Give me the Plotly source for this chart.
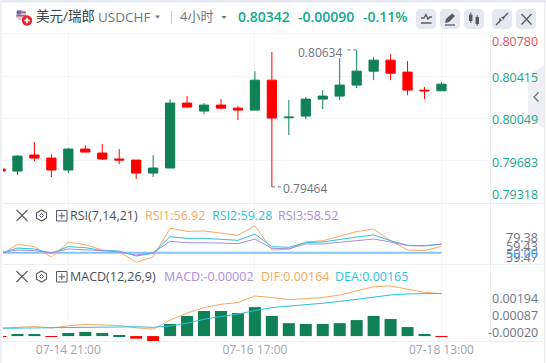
import plotly.graph_objects as go

times = ["07-14 05:00","07-14 09:00","07-14 13:00","07-14 17:00","07-14 21:00","07-15 01:00","07-15 05:00","07-15 09:00","07-15 13:00",
         "07-15 17:00","07-15 21:00","07-16 01:00","07-16 05:00","07-16 09:00","07-16 13:00","07-16 17:00","07-16 21:00","07-17 01:00",
         "07-17 05:00","07-17 09:00","07-17 13:00","07-17 17:00","07-17 21:00","07-18 01:00","07-18 05:00","07-18 09:00","07-18 13:00"]
opens  = [.79616,.79599,.79736,.79710,.79608,.79787,.79753,.79702,.79693,.79582,.79625,.80180,.80112,.80163,.80137,.80120,.80376,.80055,.80069,.80214,.80240,.80334,.80453,.80547,.80445,.80291,.80285]
closes = [.79599,.79727,.79710,.79608,.79787,.79761,.79702,.79693,.79582,.79625,.80180,.80146,.80163,.80137,.80120,.80376,.80052,.80060,.80214,.80240,.80334,.80453,.80547,.80436,.80291,.80285,.80342]
highs  = [.79622,.79736,.79847,.79744,.79796,.79821,.79830,.79787,.79693,.79736,.80214,.80240,.80180,.80214,.80154,.80453,.80616,.80206,.80231,.80291,.80564,.80634,.80573,.80598,.80539,.80317,.80359]
lows   = [.79591,.79565,.79685,.79548,.79582,.79761,.79693,.79659,.79531,.79548,.79625,.80137,.80086,.80129,.80035,.80120,.79464,.79907,.80043,.80129,.80206,.80308,.80376,.80376,.80248,.80214,.80285]
rsi1 = [47.5,59.0,56.5,45.3,61.2,58.6,52.9,51.1,39.6,45.3,76.3,73.0,73.4,70.9,68.7,79.1,52.9,53.6,61.5,62.9,67.6,72.7,75.5,62.9,52.9,52.2,56.9]
rsi2 = [49.3,55.0,54.0,49.3,56.5,55.4,52.2,51.8,46.4,49.3,67.3,65.5,65.5,64.4,63.3,70.1,56.5,55.8,60.8,61.5,64.4,66.9,69.1,62.9,57.9,57.6,59.3]
rsi3 = [50.0,52.9,52.2,50.0,54.0,53.2,52.2,50.7,47.5,50.0,62.2,60.8,60.8,60.4,59.7,64.7,54.7,54.3,59.4,59.4,61.2,63.3,64.7,61.5,57.6,57.2,59.0]
macd = [-.00002,.00008,.00008,-.00002,.00012,.00016,.00012,.00003,-.00010,-.00019,.00047,.00078,.00097,.00097,.00089,.00112,.00078,.00050,.00047,.00047,.00050,.00062,.00078,.00066,.00035,.00008,-.00002]
dif  = [.00031,.00035,.00037,.00031,.00040,.00045,.00044,.00041,.00032,.00027,.00062,.00089,.00110,.00123,.00130,.00155,.00149,.00141,.00145,.00149,.00159,.00176,.00191,.00194,.00181,.00169,.00164]
dea  = [.00030,.00031,.00032,.00031,.00034,.00035,.00036,.00037,.00036,.00034,.00039,.00050,.00065,.00076,.00085,.00099,.00110,.00116,.00121,.00127,.00134,.00142,.00151,.00159,.00163,.00165,.00165]
grid_prices = [.80408,.80052,.79693]
tick_times = ["07-14 21:00","07-16 17:00","07-18 13:00"]
price_labels = ["0.80780","0.80415","0.80049","0.79683","0.79318"]
rsi_labels = ["79.38","59.43","39.47","50.00"]
macd_labels = ["0.00194","0.00087","-0.00020"]

W, H = 546, 363
GREEN, RED = "#108157", "#ff0000"
TXT_GREEN, GRAY = "#14a98c", "#6f7480"
ORANGE, CYAN, PURPLE, BLUE = "#f8a860", "#29c3dc", "#a98be4", "#82c5fa"
GRID = "#f3f5f9"
FONT = "Open Sans, Noto Sans CJK SC, sans-serif"

def dom(top, bottom):
    return [1 - bottom / H, 1 - top / H]

fig = go.Figure()
fig.add_trace(go.Candlestick(x=times, open=opens, high=highs, low=lows, close=closes, xaxis="x", yaxis="y",
    whiskerwidth=0, line_width=1,
    increasing=dict(line_color=GREEN, fillcolor=GREEN), decreasing=dict(line_color=RED, fillcolor=RED)))
fig.add_trace(go.Scatter(x=times, y=[50]*27, mode="lines", line=dict(color=BLUE, width=2), xaxis="x2", yaxis="y2"))
for vals, col in ((rsi1, ORANGE), (rsi2, CYAN), (rsi3, PURPLE)):
    fig.add_trace(go.Scatter(x=times, y=vals, mode="lines", line=dict(color=col, width=1), xaxis="x2", yaxis="y2"))
fig.add_trace(go.Bar(x=times, y=macd, marker_color=[GREEN if v > 0 else RED for v in macd], marker_line_width=0, width=0.71, xaxis="x3", yaxis="y3"))
fig.add_trace(go.Scatter(x=times, y=dif, mode="lines", line=dict(color=ORANGE, width=1), xaxis="x3", yaxis="y3"))
fig.add_trace(go.Scatter(x=times, y=dea, mode="lines", line=dict(color=CYAN, width=1), xaxis="x3", yaxis="y3"))

xr = [(3 - .5) / 16.96, (490 - .5) / 16.96]
xbase = dict(type="category", categoryorder="array", categoryarray=times, range=xr, domain=[3 / W, 490 / W],
             tickmode="array", tickvals=tick_times, showgrid=True, gridcolor=GRID, gridwidth=1, zeroline=False,
             showline=False, ticks="", rangeslider=dict(visible=False), showticklabels=False)
ybase = dict(side="right", showticklabels=False, zeroline=False, showline=False, ticks="", showgrid=False)

annots = []
def text(x, y, s, color=GRAY, size=12, anchor="left", weight=None):
    f = dict(family=FONT, size=size, color=color)
    if weight: f["weight"] = weight
    annots.append(dict(text=s, x=x / W, y=1 - y / H, xref="paper", yref="paper", xanchor=anchor, yanchor="middle",
                       showarrow=False, font=f, borderpad=0, borderwidth=0))

shapes = []
def pline(x0, y0, x1, y1, color, width=1, dash=None):
    shapes.append(dict(type="line", xref="paper", yref="paper", x0=x0 / W, x1=x1 / W, y0=1 - y0 / H, y1=1 - y1 / H,
                       line=dict(color=color, width=width, dash=dash or "solid")))
def prect(x0, y0, x1, y1, fill, line=None, width=1):
    shapes.append(dict(type="rect", xref="paper", yref="paper", x0=x0 / W, x1=x1 / W, y0=1 - y0 / H, y1=1 - y1 / H,
                       fillcolor=fill, line=dict(color=line or fill, width=width if line else 0)))
def pcircle(cx, cy, r, fill):
    shapes.append(dict(type="circle", xref="paper", yref="paper", x0=(cx - r) / W, x1=(cx + r) / W, y0=1 - (cy - r) / H, y1=1 - (cy + r) / H,
                       fillcolor=fill, line=dict(width=0)))
def ppath(pts, fill=None, color=None, width=1, close=True):
    d = "M" + " L".join(f"{x / W:.5f},{1 - y / H:.5f}" for x, y in pts) + (" Z" if close else "")
    shapes.append(dict(type="path", path=d, xref="paper", yref="paper", fillcolor=fill or "rgba(0,0,0,0)",
                       line=dict(color=color or "rgba(0,0,0,0)", width=width if color else 0)))

# page frame
prect(0, 0, W, 2.5, "#e6e9f0")
prect(0, 0, 2, H, "#eef0f5")
pline(544.5, 0, 544.5, H, "#e6e9f0", 1)
# panel borders
pline(3, 33.5, 490, 33.5, GRID)
pline(3, 203.5, 543, 203.5, "#eceef3")
pline(3, 264.5, 543, 264.5, "#eceef3")
pline(3, 341.5, 543, 341.5, "#eceef3")
pline(490.5, 33, 490.5, 341, "#eceef3")

# header
pcircle(21, 15, 5.2, "#c7ccd8")
prect(16.5, 11.5, 26, 13, "#d9505c"); prect(16.5, 15, 26, 16.5, "#d9505c"); prect(17, 10.5, 21, 14.5, "#5f6fae")
pcircle(27, 20.5, 5.2, "#e8262f")
pline(24.2, 20.5, 29.8, 20.5, "#ffffff", 1.6); pline(27, 17.7, 27, 23.3, "#ffffff", 1.6)
text(36, 16, "美元/瑞郎", "#3a3f4a", 13.5)
text(98, 17.5, "USDCHF", GRAY, 13.5)
ppath([(155, 15.5), (160, 15.5), (157.5, 18.5)], fill=GRAY)
pline(171.5, 11, 171.5, 23.5, "#c9ced8")
text(180, 16, "4小时", GRAY, 13)
ppath([(221.5, 16), (226.5, 16), (224, 19)], fill=GRAY)
text(238, 16.5, "0.80342", TXT_GREEN, 14, weight=600)
text(298, 16.5, "-0.00090", TXT_GREEN, 14, weight=600)
text(363, 16.5, "-0.11%", TXT_GREEN, 14, weight=600)
BTN = "#e6e8ef"; ICON = "#555a66"
for x0 in (416, 440, 464, 492, 516):
    r = 3
    ppath([(x0 + r, 9), (x0 + 20 - r, 9), (x0 + 20, 9 + r), (x0 + 20, 29 - r), (x0 + 20 - r, 29), (x0 + r, 29), (x0, 29 - r), (x0, 9 + r)], fill=BTN)
ppath([(421, 18), (424, 18), (426, 14.5), (428, 19), (430, 17), (432, 17)], color=ICON, width=1.3, close=False)
pline(421, 23, 431.5, 23, ICON, 1.5)
ppath([(445, 23), (446, 19), (452, 13.5), (455, 16), (449, 22)], fill=ICON)
pline(445, 25, 455, 25, ICON, 1.3)
prect(469, 14.5, 472.5, 21, ICON); pline(470.8, 12.5, 470.8, 23, ICON, 1)
prect(475.5, 17, 479, 24, ICON); pline(477.2, 15, 477.2, 26, ICON, 1)
ppath([(496, 25), (500.5, 20.5)], color=ICON, width=1.4, close=False)
ppath([(503.5, 17.5), (508, 13)], color=ICON, width=1.4, close=False)
ppath([(499.5, 17.5), (502, 20.5), (499, 21.5)], fill=ICON)
ppath([(501, 17), (504.5, 16.5), (504, 20)], fill=ICON)
pline(521.5, 14, 531.5, 24.5, ICON, 1.3); pline(531.5, 14, 521.5, 24.5, ICON, 1.3)

# side tab
ppath([(528, 76), (544, 65), (544, 128), (528, 118)], fill="#eeeff5")
ppath([(538.5, 92.5), (534, 97), (538.5, 101.5)], color=GRAY, width=1.4, close=False)

# price axis labels
for s, y, c in zip(price_labels, (41, 77.7, 119.5, 162.5, 194.5), ("#e0525f", TXT_GREEN, TXT_GREEN, TXT_GREEN, TXT_GREEN)):
    text(538, y, s, c, 12.5, "right")

# high and low marks
text(342, 52, "0.80634", GRAY, 12, "right")
shapes.append(dict(type="line", xref="x", yref="y", x0=20.45, x1=21, y0=.80634, y1=.80634, line=dict(color=GRAY, width=1, dash="dot")))
text(283, 188.5, "0.79464", GRAY, 12, "left")
shapes.append(dict(type="line", xref="x", yref="y", x0=16, x1=16.55, y0=.79464, y1=.79464, line=dict(color=GRAY, width=1, dash="dot")))

# sub-pane headers
def pane_head(y):
    pline(16.5, y - 5.5, 27.5, y + 5.5, ICON, 1.1); pline(27.5, y - 5.5, 16.5, y + 5.5, ICON, 1.1)
    ppath([(41.5, y - 5.5), (46.5, y - 2.7), (46.5, y + 2.7), (41.5, y + 5.5), (36.5, y + 2.7), (36.5, y - 2.7)], color=ICON, width=1.1)
    pcircle(41.5, y, 2, "#ffffff")
    ppath([(39.5, y), (41.5, y - 2), (43.5, y), (41.5, y + 2)], color=ICON, width=1)
    prect(56.5, y - 5, 67, y + 5.5, "#ffffff", ICON, 1)
    pline(58.5, y + .3, 65, y + .3, ICON, 1); pline(61.8, y - 3, 61.8, y + 3.5, ICON, 1)

pane_head(215.5)
text(70, 215.5, "RSI(7,14,21)", "#4a4f5a", 12.5)
text(145, 215.5, "RSI1:56.92", ORANGE, 12.5)
text(212, 215.5, "RSI2:59.28", CYAN, 12.5)
text(278, 215.5, "RSI3:58.52", PURPLE, 12.5)
pane_head(276.5)
text(70, 276.5, "MACD(12,26,9)", "#4a4f5a", 12.5)
text(164, 276.5, "MACD:-0.00002", PURPLE, 12.5)
text(261, 276.5, "DIF:0.00164", ORANGE, 12.5)
text(335, 276.5, "DEA:0.00165", CYAN, 12.5)

for s, y, c in zip(rsi_labels, (237.5, 246, 257, 253), (GRAY, GRAY, GRAY, "#3b9af0")):
    text(538, y, s, c, 12.5, "right")
for s, y in zip(macd_labels, (298.3, 315.7, 332.7)):
    text(538, y, s, GRAY, 12.5, "right")

fig.update_layout(
    width=W, height=H, margin=dict(l=0, r=0, t=0, b=0), autosize=False,
    paper_bgcolor="#ffffff", plot_bgcolor="#ffffff", showlegend=False, boxgap=0.22, barmode="overlay", hovermode=False,
    font=dict(family=FONT, size=12, color="#9aa0ac"),
    xaxis=dict(xbase, anchor="y"),
    xaxis2=dict(xbase, anchor="y2", matches="x"),
    xaxis3=dict(xbase, anchor="y3", matches="x", showticklabels=True, ticktext=tick_times, ticklabelposition="outside",
                tickfont=dict(size=12, color="#a0a5b1")),
    yaxis=dict(ybase, domain=dom(33.5, 203), range=[.79326, .80775], tickmode="array", tickvals=grid_prices, showgrid=True, gridcolor=GRID, anchor="x"),
    yaxis2=dict(ybase, domain=dom(203.5, 264), range=[37.8, 103], anchor="x2"),
    yaxis3=dict(ybase, domain=dom(265, 341), range=[-.00019, .00275], anchor="x3"),
    shapes=shapes, annotations=annots,
)
fig.write_html("out.html", config=dict(displayModeBar=False),
               post_script="document.body.style.margin='0';document.body.style.overflow='hidden';")
